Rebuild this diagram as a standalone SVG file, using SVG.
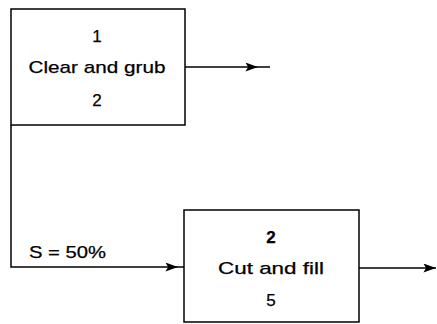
<svg xmlns="http://www.w3.org/2000/svg" width="437" height="324" viewBox="0 0 437 324">
  <defs>
    <marker id="arrow" viewBox="0 0 14 10" refX="14" refY="5" markerWidth="13" markerHeight="9" markerUnits="userSpaceOnUse" orient="auto">
      <path d="M0,0 L14,5 L0,10 L3,5 Z" fill="#000"/>
    </marker>
  </defs>
  <style>
    .box { fill: #fff; stroke: #000; stroke-width: 1.5; }
    .line { fill: none; stroke: #000; stroke-width: 1.5; }
    text { font-family: "Liberation Sans", Arial, sans-serif; font-size: 17px; fill: #000; stroke: #000; stroke-width: 0.25; text-anchor: middle; }
    .lbl { text-anchor: start; }
  </style>

  <g id="connectors">
    <line class="line" x1="185" y1="67" x2="258" y2="67" marker-end="url(#arrow)"/>
    <line class="line" x1="258" y1="67" x2="270" y2="67"/>
    <polyline class="line" points="11,125 11,267 178,267" marker-end="url(#arrow)"/>
    <line class="line" x1="178" y1="267" x2="184" y2="267"/>
    <line class="line" x1="359" y1="268" x2="436" y2="268" marker-end="url(#arrow)"/>
    <text class="lbl" x="29" y="258" textLength="77" lengthAdjust="spacingAndGlyphs">S = 50%</text>
  </g>

  <g id="clear-and-grub">
    <rect class="box" x="11" y="9" width="174" height="116"/>
    <text x="97" y="42">1</text>
    <text x="97" y="73" textLength="137" lengthAdjust="spacingAndGlyphs">Clear and grub</text>
    <text x="97" y="106">2</text>
  </g>

  <g id="cut-and-fill">
    <rect class="box" x="184" y="210" width="175" height="112"/>
    <text x="271" y="243" font-weight="bold">2</text>
    <text x="271" y="274" textLength="106" lengthAdjust="spacingAndGlyphs">Cut and fill</text>
    <text x="271" y="306">5</text>
  </g>
</svg>
